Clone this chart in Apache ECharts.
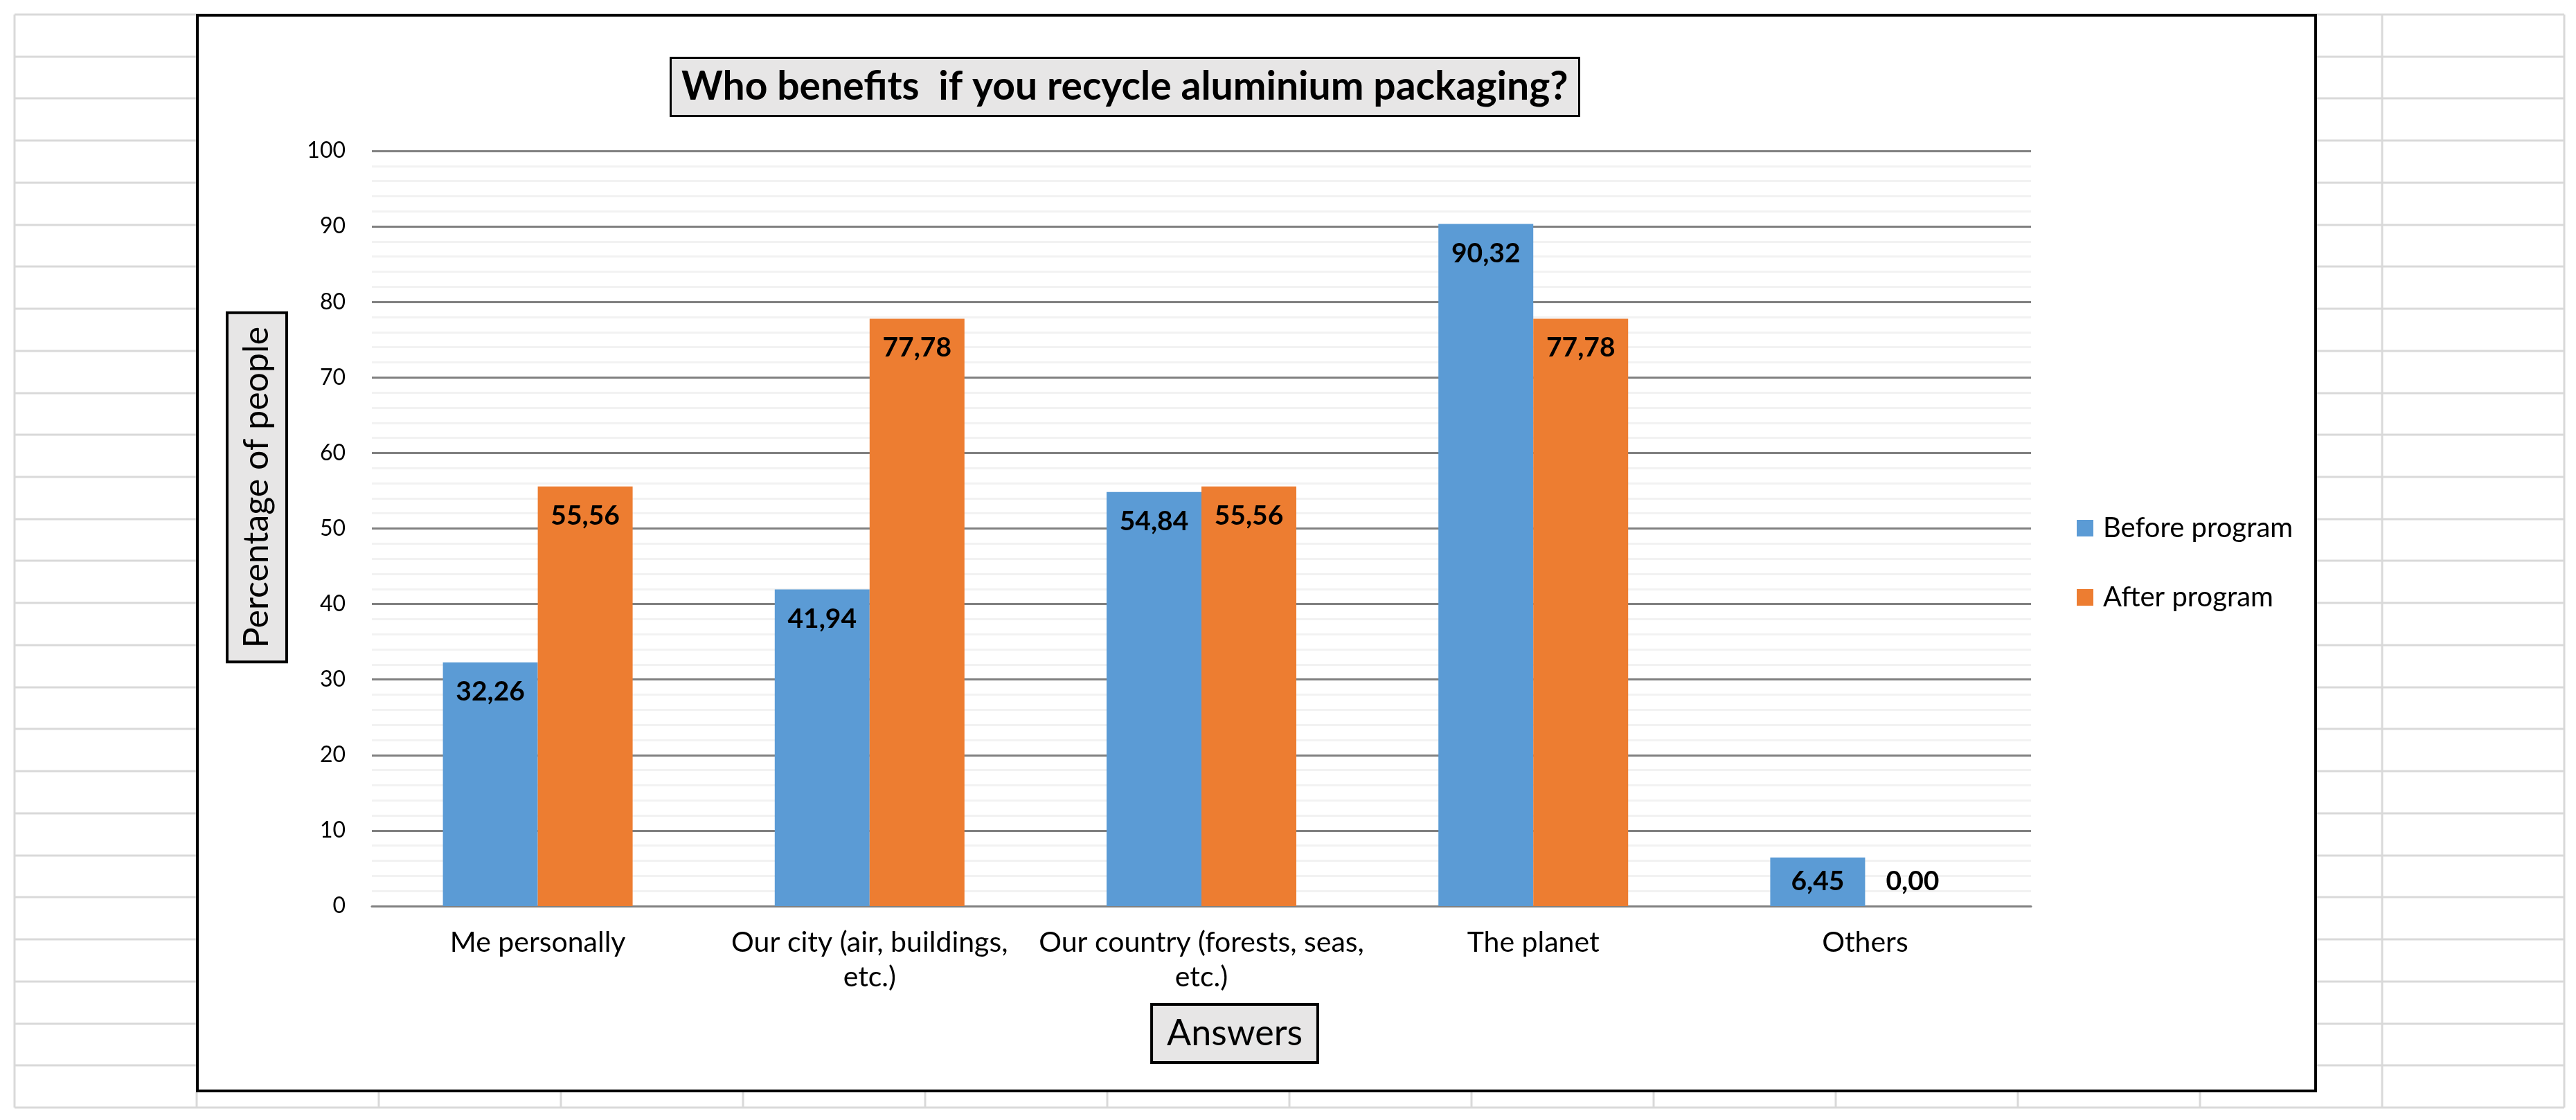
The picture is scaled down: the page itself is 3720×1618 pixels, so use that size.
<!DOCTYPE html>
<html>
<head>
<meta charset="UTF-8">
<title>Who benefits if you recycle aluminium packaging?</title>
<script src="https://cdn.jsdelivr.net/npm/echarts@6/dist/echarts.min.js"></script>
<style>
html, body {
    margin: 0;
    padding: 0;
    background: #fff;
}
#main {
    width: 3720px;
    height: 1618px;
}
</style>
</head>
<body>
<div id="main"></div>
<script>
// data
var categories = ['Me personally', 'Our city (air, buildings,\netc.)', 'Our country (forests, seas,\netc.)', 'The planet', 'Others'];
var beforeProgram = [32.26, 41.94, 54.84, 90.32, 6.45];
var afterProgram = [55.56, 77.78, 55.56, 77.78, 0.00];
var seriesNames = ['Before program', 'After program'];

var FONT = 'Lato';

function fmt(v) {
    return v.toFixed(2).replace('.', ',');
}

// excel puts short bar labels in the middle, zero labels just above the axis
function withLabels(arr) {
    return arr.map(function (v) {
        var item = { value: v };
        if (v === 0) {
            item.label = { position: 'top', distance: 16 };
        } else if (v < 10) {
            item.label = { position: 'inside' };
        }
        return item;
    });
}

// spreadsheet cells behind the chart
var sheet = [];
for (var i = 0; i <= 14; i++) {
    var x = 21 + i * 263;
    sheet.push({ type: 'line', shape: { x1: x, y1: 21, x2: x, y2: 1600 }, style: { stroke: '#d9d9d9', lineWidth: 3 } });
}
for (var j = 0; j <= 26; j++) {
    var y = Math.round(21 + j * 60.73);
    sheet.push({ type: 'line', shape: { x1: 21, y1: y, x2: 3703, y2: y }, style: { stroke: '#d9d9d9', lineWidth: 3 } });
}
// chart area
sheet.push({ type: 'rect', shape: { x: 285, y: 22, width: 3059, height: 1554 }, style: { fill: '#fff', stroke: '#000', lineWidth: 4 } });
// axis titles in boxes
sheet.push({
    type: 'text', x: 371, y: 704, rotation: Math.PI / 2,
    style: {
        text: 'Percentage of people', font: '50px ' + FONT, fill: '#000',
        align: 'center', verticalAlign: 'middle',
        backgroundColor: '#e7e6e6', borderColor: '#000', borderWidth: 4,
        padding: [16, 18, 16, 18]
    }
});
sheet.push({
    type: 'text', x: 1783, y: 1493,
    style: {
        text: 'Answers', font: '52px ' + FONT, fill: '#000',
        align: 'center', verticalAlign: 'middle',
        backgroundColor: '#e7e6e6', borderColor: '#000', borderWidth: 4,
        padding: [14, 20, 14, 20]
    }
});

var chart = echarts.init(document.getElementById('main'));
var option = {
    backgroundColor: '#fff',
    animation: false,
    textStyle: { fontFamily: FONT },
    title: {
        text: 'Who benefits  if you recycle aluminium packaging?',
        left: 968,
        top: 83,
        padding: [14, 16, 14, 16],
        backgroundColor: '#e7e6e6',
        borderColor: '#000',
        borderWidth: 3,
        textStyle: { fontFamily: FONT, fontSize: 57, fontWeight: 'bold', color: '#000' }
    },
    legend: {
        data: seriesNames,
        orient: 'vertical',
        left: 2994,
        top: 738,
        itemWidth: 24,
        itemHeight: 24,
        itemGap: 60,
        icon: 'rect',
        textStyle: { fontFamily: FONT, fontSize: 40, color: '#000', padding: [0, 0, 0, 9] }
    },
    graphic: sheet,
    grid: {
        left: 537,
        right: 787,
        top: 218,
        bottom: 309,
        containLabel: false
    },
    xAxis: {
        type: 'category',
        data: categories,
        axisLine: { lineStyle: { color: '#808080', width: 3 } },
        axisTick: { show: false },
        axisLabel: { fontFamily: FONT, fontSize: 41, color: '#000', margin: 28, lineHeight: 50, interval: 0 }
    },
    yAxis: {
        type: 'value',
        min: 0,
        max: 100,
        interval: 10,
        axisLine: { show: false },
        axisTick: { show: false },
        axisLabel: { fontFamily: FONT, fontSize: 32, color: '#000', margin: 38 },
        splitLine: { lineStyle: { color: '#808080', width: 3 } },
        minorTick: { show: false, splitNumber: 5 },
        minorSplitLine: { show: true, lineStyle: { color: '#f2f2f2', width: 3 } }
    },
    series: [
        {
            name: seriesNames[0],
            type: 'bar',
            data: withLabels(beforeProgram),
            barWidth: 137,
            barGap: '0%',
            itemStyle: { color: '#5b9bd5' },
            label: {
                show: true, position: 'insideTop', distance: 23,
                fontFamily: FONT, fontSize: 39, fontWeight: 'bold', color: '#000',
                formatter: function (p) { return fmt(p.value); }
            }
        },
        {
            name: seriesNames[1],
            type: 'bar',
            data: withLabels(afterProgram),
            barWidth: 137,
            itemStyle: { color: '#ed7d31' },
            label: {
                show: true, position: 'insideTop', distance: 23,
                fontFamily: FONT, fontSize: 39, fontWeight: 'bold', color: '#000',
                formatter: function (p) { return fmt(p.value); }
            }
        }
    ]
};
chart.setOption(option);
</script>
</body>
</html>
